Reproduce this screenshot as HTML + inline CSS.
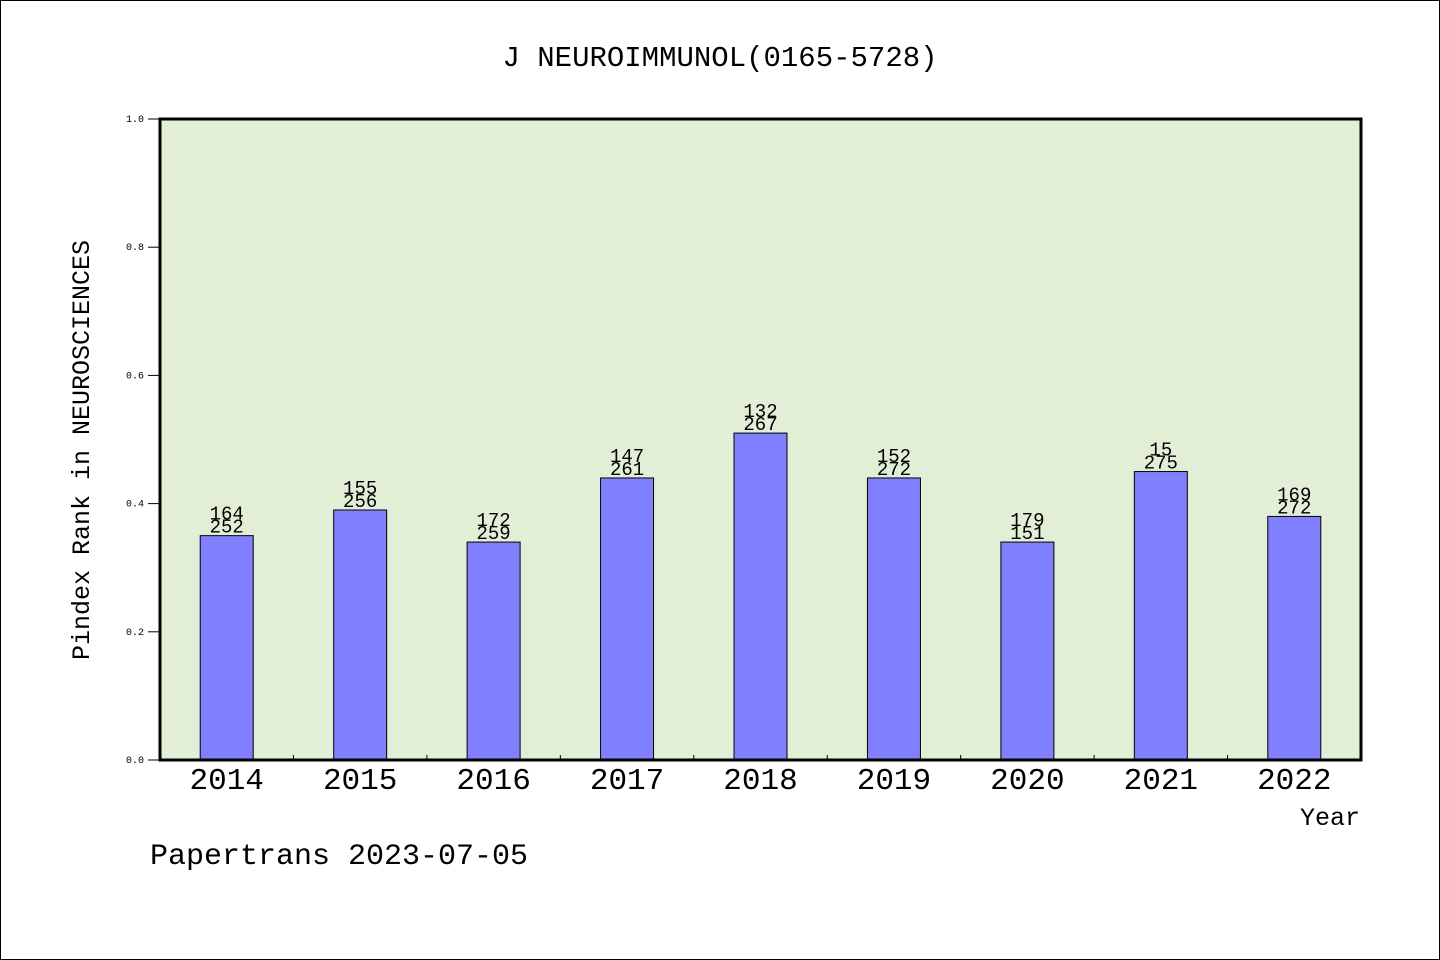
<!DOCTYPE html>
<html><head><meta charset="utf-8"><style>
html,body{margin:0;padding:0;background:#fff}
svg{display:block}
text{font-family:"WenQuanYi Zen Hei","Liberation Mono",monospace}
</style></head><body>
<svg id="chart" width="1440" height="960" viewBox="0 0 1440 960">
<rect x="0.5" y="0.5" width="1439" height="959" fill="#fff" stroke="#000" stroke-width="1"/>
<text x="720" y="66" text-anchor="middle" font-size="29">J NEUROIMMUNOL(0165-5728)</text>
<rect x="160" y="119" width="1201" height="641" fill="#e2efd6"/>
<g id="bars"></g>
<g id="yaxis"></g>
<g id="xaxis"></g>
<rect x="160" y="119" width="1201" height="641" fill="none" stroke="#000" stroke-width="3"/>
<text transform="translate(89,450) rotate(-90)" text-anchor="middle" font-size="25">Pindex Rank in NEUROSCIENCES</text>
<text x="1360" y="825" text-anchor="end" font-size="25">Year</text>
<text x="150" y="864" font-size="30">Papertrans 2023-07-05</text>
</svg>
<script>
const years=["2014","2015","2016","2017","2018","2019","2020","2021","2022"];
const values=[0.35,0.39,0.34,0.44,0.51,0.44,0.34,0.45,0.38];
const ranks=["164","155","172","147","132","152","179","15","169"];
const totals=["252","256","259","261","267","272","151","275","272"];
const yTicks=[0,0.2,0.4,0.6,0.8,1.0];
const yTickLabels=["0.0","0.2","0.4","0.6","0.8","1.0"];
const NS="http://www.w3.org/2000/svg";
const L=160,R=1361,T=119,B=760;
const band=(R-L)/years.length;
const xC=i=>L+band*(i+0.5);
const y=v=>B-(B-T)*v;
function mk(tag,attrs,parent,txt){const e=document.createElementNS(NS,tag);for(const k in attrs)e.setAttribute(k,attrs[k]);if(txt!==undefined)e.textContent=txt;parent.appendChild(e);return e;}
const gb=document.getElementById('bars'),gy=document.getElementById('yaxis'),gx=document.getElementById('xaxis');
const bw=53;
years.forEach((yr,i)=>{
  const r=mk('rect',{x:xC(i)-bw/2,y:y(values[i]),width:bw,height:B-y(values[i]),fill:'#8080ff',stroke:'#000','stroke-width':1},gb);
  
  
  const t1=mk('text',{x:xC(i),y:y(values[i])-16,'text-anchor':'middle','font-size':19},gb,ranks[i]);
  
  
  const t2=mk('text',{x:xC(i),y:y(values[i])-3,'text-anchor':'middle','font-size':19},gb,totals[i]);
  
  
  const xl=mk('text',{x:xC(i),y:789,'text-anchor':'middle','font-size':31,'font-family':'Liberation Sans, sans-serif'},gx,yr);
  
  
  if(i>0){const tk=mk('line',{x1:L+band*i,x2:L+band*i,y1:B,y2:B-5,stroke:'#000'},gx);
  
  }
});
yTicks.forEach((v,i)=>{
  const ln=mk('line',{x1:L-12,x2:L,y1:y(v),y2:y(v),stroke:'#000'},gy);
  
  
  const tl=mk('text',{x:L-16,y:y(v)+3,'text-anchor':'end','font-size':10,'font-family':'Liberation Sans, sans-serif'},gy,yTickLabels[i]);
  
  
});
</script>
</body></html>
